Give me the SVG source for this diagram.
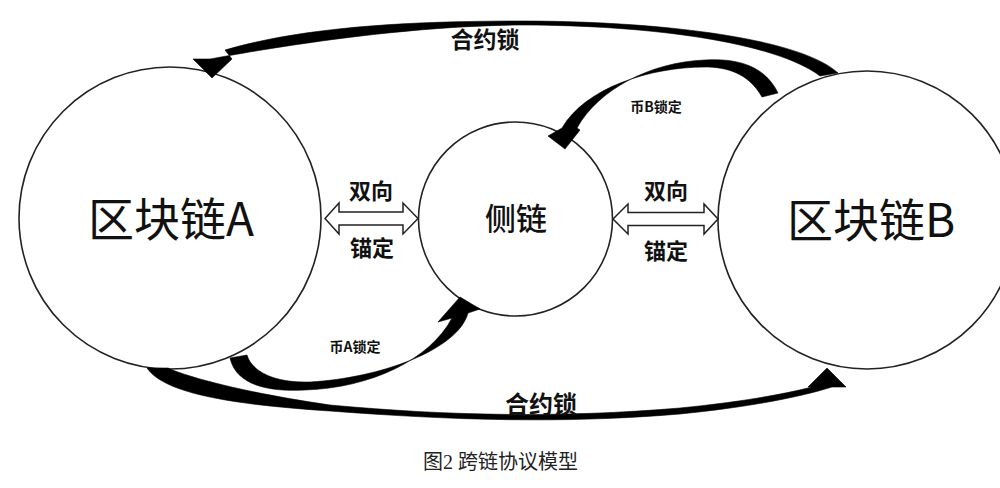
<svg xmlns="http://www.w3.org/2000/svg" width="1000" height="488" viewBox="0 0 1000 488">
<style>
.node{fill:#fff;stroke:#222;stroke-width:1.6}
.big{font-family:"Noto Sans CJK SC","Liberation Sans",sans-serif;font-size:46px;font-weight:400;fill:#111;text-anchor:middle}
.mid{font-family:"Noto Sans CJK SC","Liberation Sans",sans-serif;font-size:31px;font-weight:500;fill:#111;text-anchor:middle}
.lbl{font-family:"Noto Sans CJK SC","Liberation Sans",sans-serif;font-weight:700;fill:#111;text-anchor:middle}
.arc{fill:#000;stroke:#000;stroke-width:0.6;stroke-linejoin:round}
.dbl{fill:#fff;stroke:#222;stroke-width:1.5;stroke-linejoin:miter}
.cap{font-family:"Liberation Serif","Noto Sans CJK SC",serif;font-size:20px;fill:#222}
</style>
<rect width="1000" height="488" fill="#fff"/>
<g id="chainA">
<circle class="node" cx="170" cy="218" r="151"/>
<text class="big" x="171" y="236">区块链A</text>
</g>
<g id="sidechain">
<circle class="node" cx="515.5" cy="219" r="97"/>
<text class="mid" x="516" y="230">侧链</text>
</g>
<g id="chainB">
<circle class="node" cx="867" cy="220" r="149"/>
<text class="big" x="871" y="237">区块链B</text>
</g>
<g id="connectors">
<!-- top contract lock: B -> A -->
<path class="arc" d="M838 73 C800 38 660 21 520 21 C400 21 300 28 225 50 L232 59 L212 78 L193 59 L210 59 C270 48 400 26 520 25 C650 25 775 42 820 76 Z"/>
<text class="lbl" x="485" y="48" font-size="23">合约锁</text>
<!-- coin B lock: B -> side -->
<path class="arc" d="M762 97 C748 72 725 67 705 67 C650 67 585 88 562 128 L548 136 L565 149 L580 130 L577 128 C598 90 650 62 705 60 C738 58 765 66 778 93 Z"/>
<text class="lbl" x="656" y="112" font-size="14">币B锁定</text>
<!-- coin A lock: A -> side -->
<path class="arc" d="M230 358 C236 385 268 392 305 390 C370 388 430 360 452 318 L438 322 L460 297 L480 309 L468 313 C458 350 380 378 310 382 C275 383 252 372 247 355 Z"/>
<text class="lbl" x="355" y="352" font-size="14">币A锁定</text>
<!-- bottom contract lock: A -> B -->
<path class="arc" d="M147 368 C165 395 240 405 330 411 C450 420 560 424 680 414 C750 407 800 397 832 387 L846 387 L827 368 L808 387 L812 387 C780 395 740 402 680 408 C560 418 450 416 330 405 C240 392 185 376 168 368 Z"/>
<text class="lbl" x="541" y="413" font-size="24">合约锁</text>
<!-- two-way anchors -->
<path class="dbl" d="M325 218.5 L339 203 L339 212 L403 212 L403 203 L418 218.5 L403 234 L403 225 L339 225 L339 234 Z"/>
<text class="lbl" x="371" y="199" font-size="22">双向</text>
<text class="lbl" x="372" y="256" font-size="22">锚定</text>
<path class="dbl" d="M613 219 L628 204 L628 212.5 L704 212.5 L704 204 L718 219 L704 234 L704 225.5 L628 225.5 L628 234 Z"/>
<text class="lbl" x="666" y="199" font-size="22">双向</text>
<text class="lbl" x="666" y="259" font-size="22">锚定</text>
</g>
<text class="cap" x="423" y="469">图2 跨链协议模型</text>
</svg>
